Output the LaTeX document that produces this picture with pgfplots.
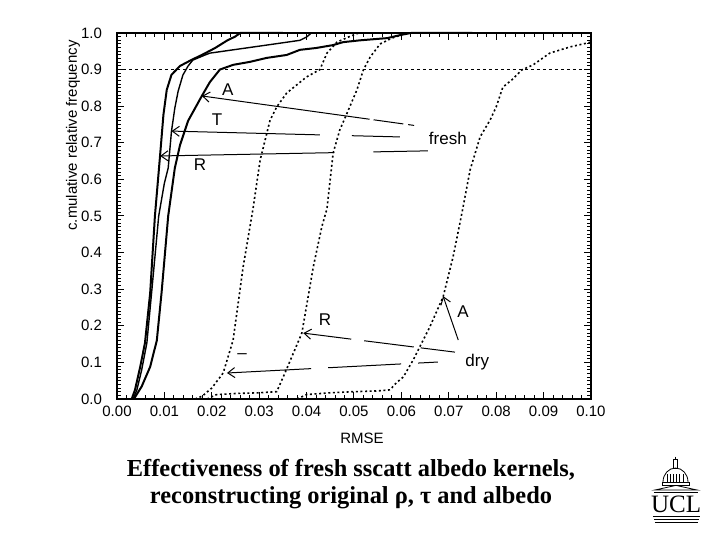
\documentclass[border=0pt]{standalone}
\usepackage{fontspec}
\setmainfont{Liberation Sans}
\newfontfamily\titlefont{Liberation Serif}
\usepackage{pgfplots}
\pgfplotsset{compat=1.18}
\usetikzlibrary{arrows.meta}
\begin{document}
\begin{tikzpicture}
\path[use as bounding box] (-58.5pt,-70.5pt) rectangle (301.5pt,199.5pt);
\begin{axis}[
  at={(0,0)}, anchor=south west, scale only axis,
  width=237pt, height=183pt,
  xmin=0, xmax=0.1, ymin=0, ymax=1,
  xtick={0,0.01,0.02,0.03,0.04,0.05,0.06,0.07,0.08,0.09,0.1},
  xticklabels={0.00,0.01,0.02,0.03,0.04,0.05,0.06,0.07,0.08,0.09,0.10},
  ytick={0,0.1,0.2,0.3,0.4,0.5,0.6,0.7,0.8,0.9,1},
  yticklabels={0.0,0.1,0.2,0.3,0.4,0.5,0.6,0.7,0.8,0.9,1.0},
  minor x tick num=4, minor y tick num=9,
  tick align=inside, major tick length=3.5pt, minor tick length=1.8pt,
  every tick/.style={black, line width=0.5pt},
  axis line style={line width=0.9pt},
  tick label style={font=\fontsize{7.5}{9}\selectfont},
  yticklabel style={xshift=-4pt},
  xticklabel style={yshift=0pt},
  xlabel={RMSE}, ylabel={c.mulative relative frequency},
  label style={font=\fontsize{7.5}{9}\selectfont},
  xlabel style={at={(axis description cs:0.517,0)}, anchor=center, yshift=-19.5pt},
  ylabel style={at={(axis description cs:0,0.72)}, anchor=center, yshift=22pt},
  clip=false,
]
% 0.9 reference line
\addplot[black, line width=0.5pt, dash pattern=on 1.5pt off 1.5pt] coordinates {(0,0.9) (0.1,0.9)};
% fresh kernels (solid)
\addplot[black, line width=1pt] coordinates {
(0.0031,0) (0.0038,0.025) (0.0049,0.088) (0.0059,0.153) (0.0070,0.29) (0.0080,0.50)
(0.0091,0.667) (0.0098,0.777) (0.0105,0.845) (0.0115,0.886) (0.0133,0.91) (0.0158,0.927)
(0.0179,0.94) (0.0207,0.959) (0.0233,0.98) (0.0249,0.99) (0.026,1.0) (0.035,1.0)};
\addplot[black, line width=0.7pt] coordinates {
(0.0034,0) (0.0042,0.025) (0.0052,0.079) (0.0063,0.153) (0.0073,0.29) (0.0088,0.50)
(0.0100,0.59) (0.0108,0.631) (0.0115,0.732) (0.0122,0.795) (0.0129,0.841) (0.0139,0.885)
(0.015,0.91) (0.016,0.926) (0.0186,0.94) (0.0196,0.945) (0.0245,0.954) (0.0316,0.967)
(0.0386,0.98) (0.040,0.989) (0.041,1.0) (0.05,1.0)};
\addplot[black, line width=1pt] coordinates {
(0.0036,0) (0.0038,0.005) (0.0052,0.034) (0.0070,0.088) (0.0084,0.16) (0.0094,0.29)
(0.0108,0.50) (0.0122,0.631) (0.0133,0.694) (0.015,0.76) (0.0179,0.828) (0.0196,0.866)
(0.0217,0.9) (0.0245,0.913) (0.028,0.921) (0.0316,0.932) (0.0358,0.94) (0.0386,0.954)
(0.042,0.959) (0.0456,0.967) (0.0477,0.975) (0.0513,0.98) (0.057,0.986) (0.060,0.995)
(0.062,1.0) (0.075,1.0)};
% dry kernels (dotted)
\addplot[black, line width=0.8pt, dash pattern=on 1pt off 1.3pt] coordinates {
(0.0165,0) (0.0180,0.008) (0.0200,0.03) (0.0224,0.071) (0.0245,0.161) (0.0266,0.36)
(0.0287,0.52) (0.0302,0.653) (0.0323,0.762) (0.0337,0.798) (0.0358,0.836) (0.040,0.88)
(0.0428,0.9) (0.0443,0.945) (0.0464,0.975) (0.049,0.99) (0.051,1.0)};
\addplot[black, line width=0.8pt, dash pattern=on 1pt off 1.3pt] coordinates {
(0.019,0) (0.021,0.012) (0.025,0.015) (0.030,0.017) (0.0337,0.02) (0.0354,0.07)
(0.0372,0.125) (0.039,0.18) (0.0414,0.36) (0.0432,0.47) (0.0443,0.52) (0.0456,0.672)
(0.047,0.735) (0.0485,0.78) (0.0506,0.844) (0.052,0.9) (0.0534,0.934) (0.0555,0.97)
(0.058,0.986) (0.060,0.995) (0.061,1.0)};
\addplot[black, line width=0.8pt, dash pattern=on 1pt off 1.3pt] coordinates {
(0.038,0) (0.040,0.012) (0.045,0.017) (0.050,0.02) (0.055,0.022) (0.0576,0.025)
(0.059,0.045) (0.0604,0.06) (0.0625,0.107) (0.0646,0.161) (0.066,0.197) (0.0688,0.279)
(0.0709,0.388) (0.0728,0.51) (0.0745,0.626) (0.0766,0.716) (0.0787,0.762) (0.080,0.798)
(0.0814,0.852) (0.0833,0.872) (0.0854,0.899) (0.0878,0.913) (0.0913,0.945) (0.0956,0.962)
(0.100,0.975)};
% annotations: fresh
\draw[{Straight Barb[length=3.5pt,width=5pt]}-, line width=0.5pt, dash pattern=on 84pt off 2pt on 15pt off 2.5pt on 3pt off 2.5pt on 3pt]
  (axis cs:0.0179,0.828) -- (axis cs:0.0635,0.746);
\draw[{Straight Barb[length=3.5pt,width=5pt]}-, line width=0.5pt, dash pattern=on 73.5pt off 16pt on 25pt]
  (axis cs:0.0115,0.732) -- (axis cs:0.0597,0.716);
\draw[{Straight Barb[length=3.5pt,width=5pt]}-, line width=0.5pt, dash pattern=on 86.5pt off 19.5pt on 28pt]
  (axis cs:0.0091,0.664) -- (axis cs:0.0656,0.678);
% annotations: dry
\draw[{Straight Barb[length=3.5pt,width=5pt]}-, line width=0.5pt, dash pattern=on 23.5pt off 6.5pt on 25pt off 3.5pt on 18pt]
  (axis cs:0.0393,0.18) -- (axis cs:0.0713,0.128);
\draw[{Straight Barb[length=3.5pt,width=5pt]}-, line width=0.5pt, dash pattern=on 41.5pt off 8.5pt on 36.5pt off 8.5pt on 11pt]
  (axis cs:0.0232,0.071) -- (axis cs:0.0677,0.101);
\draw[{Straight Barb[length=3.5pt,width=5pt]}-, line width=0.5pt]
  (axis cs:0.0688,0.281) -- (axis cs:0.072,0.161);
\begin{scope}[every node/.style={font=\fontsize{8.5}{10}\selectfont, inner sep=0pt}]
\node at (axis cs:0.0234,0.844) {A};
\node at (axis cs:0.0211,0.762) {T};
\node at (axis cs:0.0175,0.639) {R};
\node at (axis cs:0.0698,0.713) {fresh};
\node at (axis cs:0.0439,0.216) {R};
\node at (axis cs:0.0264,0.118) {--};
\node at (axis cs:0.0730,0.238) {A};
\node at (axis cs:0.0760,0.101) {dry};
\end{scope}
\end{axis}
% title
\node[font=\titlefont\bfseries\fontsize{12.2}{14}\selectfont, anchor=center] at (117pt,-35.5pt) {Effectiveness of fresh sscatt albedo kernels,};
\node[font=\titlefont\bfseries\fontsize{12.2}{14}\selectfont, anchor=center] at (117pt,-49.5pt) {reconstructing original ρ, τ and albedo};
% UCL logo
\begin{scope}[x=1pt, y=1pt, line width=0.4pt]
\draw (279.25,-28.8) -- (279.25,-30.2);
\draw (278.4,-30.2) rectangle (280.1,-34.5);
\draw (273,-41.5) arc[start angle=180, end angle=0, x radius=6.25, y radius=7];
\foreach \x in {275,276.6,278.2,279.8,281.4,283} \draw (\x,-41.5) -- (\x,-37.5);
\draw (272.5,-41.5) rectangle (286,-43);
\draw (269,-45.5) -- (279.5,-43.2) -- (290,-45.5) -- cycle;
\draw (268.5,-46.5) -- (290.5,-46.5);
\node[font=\titlefont\fontsize{12.5}{13}\selectfont, inner sep=0pt] at (279.6,-52.8) {UCL};
\draw[line width=0.6pt] (268,-58.6) -- (291.5,-58.6);
\draw (268.5,-60.2) -- (291,-60.2);
\draw (269,-61.8) -- (290.5,-61.8);
\end{scope}
\end{tikzpicture}
\end{document}
